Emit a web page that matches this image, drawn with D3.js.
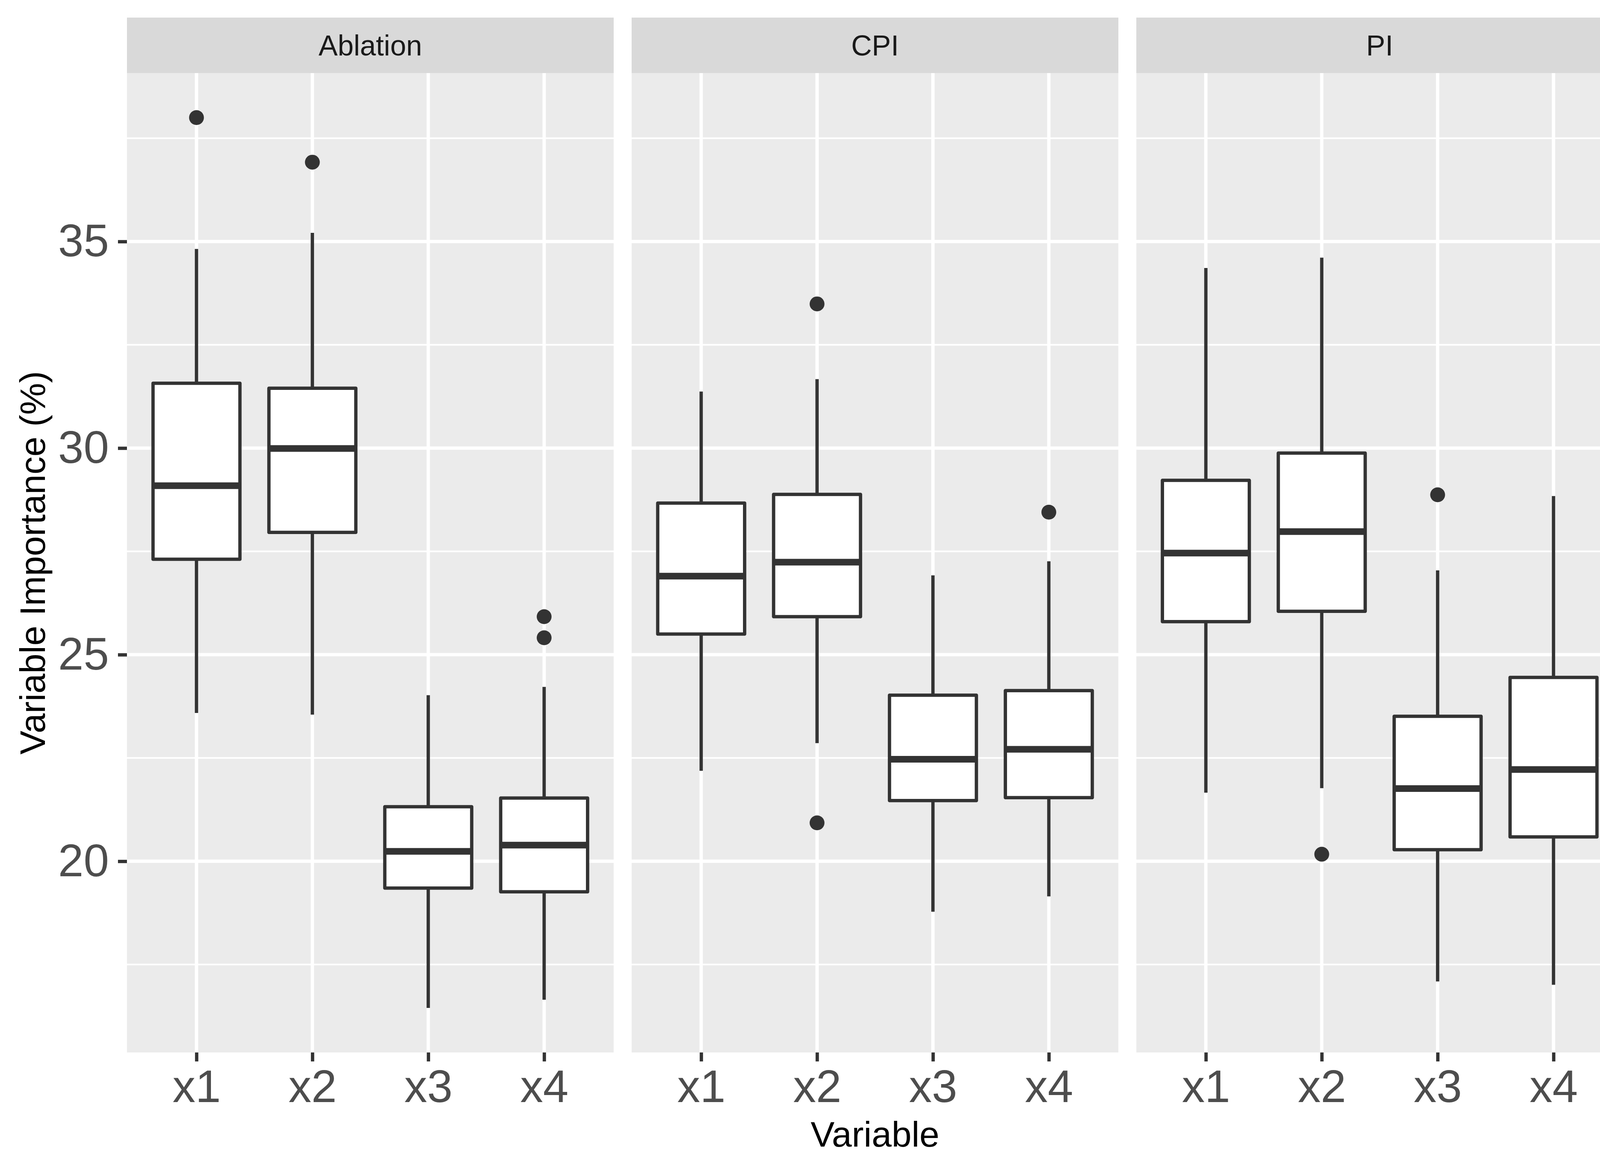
<!DOCTYPE html>
<html>
<head>
<meta charset="utf-8">
<script src="https://cdn.jsdelivr.net/npm/d3@7"></script>
<style>
  html, body { margin: 0; padding: 0; background: #ffffff; overflow: hidden; }
  svg { display: block; }
  text { font-family: "Liberation Sans", Arial, sans-serif; }
</style>
</head>
<body>
<svg id="chart" width="4200" height="3000"></svg>
<script>
// facets and categories
var methods = ["Ablation", "CPI", "PI"];
var variables = ["x1", "x2", "x3", "x4"];

// box stats per variable: [lower whisker, Q1, median, Q3, upper whisker]
var ablationStats = [
  [23.59, 27.31, 29.09, 31.57, 34.82],
  [23.55, 27.96, 29.99, 31.45, 35.21],
  [16.45, 19.35, 20.24, 21.32, 24.02],
  [16.65, 19.26, 20.39, 21.53, 24.22]
];
var cpiStats = [
  [22.19, 25.50, 26.90, 28.67, 31.37],
  [22.86, 25.92, 27.24, 28.88, 31.67],
  [18.78, 21.47, 22.47, 24.02, 26.92],
  [19.15, 21.54, 22.71, 24.13, 27.26]
];
var piStats = [
  [21.66, 25.80, 27.46, 29.22, 34.36],
  [21.77, 26.05, 27.98, 29.88, 34.61],
  [17.09, 20.28, 21.76, 23.51, 27.04],
  [17.01, 20.59, 22.22, 24.45, 28.84]
];

// outliers per variable
var ablationOutliers = [[38.0], [36.92], [], [25.92, 25.41]];
var cpiOutliers = [[], [33.49, 20.93], [], [28.45]];
var piOutliers = [[], [20.17], [28.87], []];

var yTicks = [20, 25, 30, 35];
var yMinorTicks = [17.5, 22.5, 27.5, 32.5, 37.5];

var xTitle = "Variable";
var yTitle = "Variable Importance (%)";

// ---- layout ----
var svg = d3.select("#chart");
var panelLeft = 325, panelW = 1246, panelGap = 46;
var panelTop = 187, panelBottom = 2694;
var stripTop = 45;
var boxLine = 8.5;

var allStats = [ablationStats, cpiStats, piStats];
var allOutliers = [ablationOutliers, cpiOutliers, piOutliers];

// y range from data + 5% like ggplot
var vals = [];
allStats.forEach(function(s){ s.forEach(function(b){ vals.push(b[0], b[4]); }); });
allOutliers.forEach(function(o){ o.forEach(function(b){ b.forEach(function(v){ vals.push(v); }); }); });
var yMin = d3.min(vals), yMax = d3.max(vals);
var pad = (yMax - yMin) * 0.05;
var y = d3.scaleLinear().domain([yMin - pad, yMax + pad]).range([panelBottom, panelTop]);

svg.append("rect").attr("width", 4200).attr("height", 3000).attr("fill", "#ffffff");

methods.forEach(function(m, i){
  var x0 = panelLeft + i * (panelW + panelGap);
  var x = d3.scalePoint().domain(variables).range([x0, x0 + panelW]).padding(0.6);
  var boxW = x.step() * 0.75;
  var g = svg.append("g");

  // panel background
  g.append("rect")
    .attr("x", x0).attr("y", panelTop)
    .attr("width", panelW).attr("height", panelBottom - panelTop)
    .attr("fill", "#EBEBEB");

  // strip
  g.append("rect")
    .attr("x", x0).attr("y", stripTop)
    .attr("width", panelW).attr("height", panelTop - stripTop)
    .attr("fill", "#D9D9D9");
  g.append("text")
    .attr("x", x0 + panelW / 2)
    .attr("y", (stripTop + panelTop) / 2 + 26)
    .attr("text-anchor", "middle")
    .attr("font-size", 73.3)
    .attr("fill", "#1A1A1A")
    .text(m);

  // grid lines
  g.selectAll(".minor").data(yMinorTicks).enter().append("line")
    .attr("x1", x0).attr("x2", x0 + panelW)
    .attr("y1", function(d){ return y(d); }).attr("y2", function(d){ return y(d); })
    .attr("stroke", "#ffffff").attr("stroke-width", 4.25);
  g.selectAll(".major").data(yTicks).enter().append("line")
    .attr("x1", x0).attr("x2", x0 + panelW)
    .attr("y1", function(d){ return y(d); }).attr("y2", function(d){ return y(d); })
    .attr("stroke", "#ffffff").attr("stroke-width", 8.5);
  g.selectAll(".vgrid").data(variables).enter().append("line")
    .attr("x1", function(d){ return x(d); }).attr("x2", function(d){ return x(d); })
    .attr("y1", panelTop).attr("y2", panelBottom)
    .attr("stroke", "#ffffff").attr("stroke-width", 8.5);

  // boxes
  var stats = allStats[i];
  var outl = allOutliers[i];
  variables.forEach(function(v, j){
    var b = stats[j];
    var cx = x(v);
    // whiskers
    g.append("line")
      .attr("x1", cx).attr("x2", cx)
      .attr("y1", y(b[3])).attr("y2", y(b[4]))
      .attr("stroke", "#333333").attr("stroke-width", boxLine);
    g.append("line")
      .attr("x1", cx).attr("x2", cx)
      .attr("y1", y(b[1])).attr("y2", y(b[0]))
      .attr("stroke", "#333333").attr("stroke-width", boxLine);
    // box
    g.append("rect")
      .attr("x", cx - boxW / 2).attr("y", y(b[3]))
      .attr("width", boxW).attr("height", y(b[1]) - y(b[3]))
      .attr("fill", "#ffffff")
      .attr("stroke", "#333333").attr("stroke-width", boxLine)
      .attr("stroke-linejoin", "round");
    // median
    g.append("line")
      .attr("x1", cx - boxW / 2).attr("x2", cx + boxW / 2)
      .attr("y1", y(b[2])).attr("y2", y(b[2]))
      .attr("stroke", "#333333").attr("stroke-width", boxLine * 2);
    // outliers
    g.selectAll(null).data(outl[j]).enter().append("circle")
      .attr("cx", cx).attr("cy", function(d){ return y(d); })
      .attr("r", 19)
      .attr("fill", "#333333");
  });

  // x axis
  var xAxis = svg.append("g")
    .attr("transform", "translate(0," + panelBottom + ")")
    .call(d3.axisBottom(x).tickSize(23).tickPadding(21));
  xAxis.select(".domain").remove();
  xAxis.selectAll("line").attr("stroke", "#333333").attr("stroke-width", 8.5);
  xAxis.selectAll("text")
    .attr("font-size", 117).attr("fill", "#4D4D4D")
    .style("font-family", "'Liberation Sans', Arial, sans-serif");

  // y axis only on first panel
  if (i == 0) {
    var yAxis = svg.append("g")
      .attr("transform", "translate(" + x0 + ",0)")
      .call(d3.axisLeft(y).tickValues(yTicks).tickSize(23).tickPadding(23));
    yAxis.select(".domain").remove();
    yAxis.selectAll("line").attr("stroke", "#333333").attr("stroke-width", 8.5);
    yAxis.selectAll("text")
      .attr("font-size", 117).attr("fill", "#4D4D4D")
      .style("font-family", "'Liberation Sans', Arial, sans-serif");
  }
});

// axis titles
var allLeft = panelLeft, allRight = panelLeft + 3 * panelW + 2 * panelGap;
svg.append("text")
  .attr("x", (allLeft + allRight) / 2)
  .attr("y", 2935)
  .attr("text-anchor", "middle")
  .attr("font-size", 91.7)
  .attr("fill", "#000000")
  .text(xTitle);

svg.append("text")
  .attr("transform", "translate(115," + (panelTop + panelBottom) / 2 + ") rotate(-90)")
  .attr("text-anchor", "middle")
  .attr("font-size", 91.7)
  .attr("fill", "#000000")
  .text(yTitle);
</script>
</body>
</html>
